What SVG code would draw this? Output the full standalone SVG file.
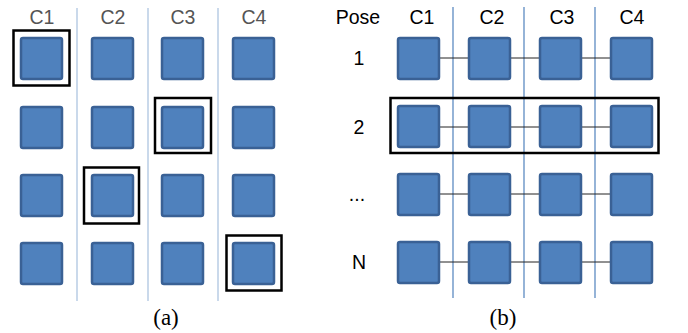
<svg xmlns="http://www.w3.org/2000/svg" width="688" height="333" viewBox="0 0 688 333">
<style>
.sq{fill:#4f81bd;stroke:#3a6195;stroke-width:2.5}
.sel{fill:none;stroke:#000;stroke-width:2.5}
.lgrid{stroke:#b9cde5;stroke-width:1.5}
.rgrid{stroke:#4f81bd;stroke-width:1.2}
.con{stroke:#222;stroke-width:1}
.lab{font-family:"Liberation Sans",Arial,sans-serif;font-size:19.5px;text-anchor:middle}
.cap{font-family:"Liberation Serif","Times New Roman",serif;font-size:23px;text-anchor:middle;fill:#000}
</style>
<rect width="688" height="333" fill="#fff"/>
<g id="panel-a-grid">
<line class="lgrid" x1="77" y1="8" x2="77" y2="301"/>
<line class="lgrid" x1="148" y1="8" x2="148" y2="301"/>
<line class="lgrid" x1="218" y1="8" x2="218" y2="301"/>
</g>
<g id="panel-a-labels" class="lab" fill="#555">
<text x="42" y="24">C1</text>
<text x="113" y="24">C2</text>
<text x="183" y="24">C3</text>
<text x="254" y="24">C4</text>
</g>
<g id="panel-a-nodes">
<g id="a-r1"><rect class="sq" x="21" y="38" width="41" height="41" rx="2"/><rect class="sq" x="92" y="38" width="41" height="41" rx="2"/><rect class="sq" x="162" y="38" width="41" height="41" rx="2"/><rect class="sq" x="233" y="38" width="41" height="41" rx="2"/></g>
<g id="a-r2"><rect class="sq" x="21" y="107" width="41" height="41" rx="2"/><rect class="sq" x="92" y="107" width="41" height="41" rx="2"/><rect class="sq" x="162" y="107" width="41" height="41" rx="2"/><rect class="sq" x="233" y="107" width="41" height="41" rx="2"/></g>
<g id="a-r3"><rect class="sq" x="21" y="175" width="41" height="41" rx="2"/><rect class="sq" x="92" y="175" width="41" height="41" rx="2"/><rect class="sq" x="162" y="175" width="41" height="41" rx="2"/><rect class="sq" x="233" y="175" width="41" height="41" rx="2"/></g>
<g id="a-r4"><rect class="sq" x="21" y="243" width="41" height="41" rx="2"/><rect class="sq" x="92" y="243" width="41" height="41" rx="2"/><rect class="sq" x="162" y="243" width="41" height="41" rx="2"/><rect class="sq" x="233" y="243" width="41" height="41" rx="2"/></g>
</g>
<g id="panel-a-selections">
<rect class="sel" x="13.5" y="30.5" width="56" height="55"/>
<rect class="sel" x="155" y="98" width="56" height="55"/>
<rect class="sel" x="84" y="167.5" width="55" height="56"/>
<rect class="sel" x="226.5" y="235.5" width="55" height="55"/>
</g>
<text class="cap" x="166" y="325">(a)</text>

<g id="panel-b-grid">
<line class="rgrid" x1="453" y1="7" x2="453" y2="298"/>
<line class="rgrid" x1="524" y1="7" x2="524" y2="298"/>
<line class="rgrid" x1="595" y1="7" x2="595" y2="298"/>
</g>
<g id="connectors">
<line class="con" x1="439" y1="58" x2="468" y2="58"/><line class="con" x1="510" y1="58" x2="539" y2="58"/><line class="con" x1="581" y1="58" x2="610" y2="58"/>
<line class="con" x1="439" y1="127" x2="468" y2="127"/><line class="con" x1="510" y1="127" x2="539" y2="127"/><line class="con" x1="581" y1="127" x2="610" y2="127"/>
<line class="con" x1="439" y1="194" x2="468" y2="194"/><line class="con" x1="510" y1="194" x2="539" y2="194"/><line class="con" x1="581" y1="194" x2="610" y2="194"/>
<line class="con" x1="439" y1="262" x2="468" y2="262"/><line class="con" x1="510" y1="262" x2="539" y2="262"/><line class="con" x1="581" y1="262" x2="610" y2="262"/>
</g>
<g id="panel-b-labels" class="lab" fill="#000">
<text x="358" y="24">Pose</text>
<text x="422" y="24">C1</text>
<text x="492" y="24">C2</text>
<text x="562" y="24">C3</text>
<text x="632" y="24">C4</text>
<text x="359" y="65">1</text>
<text x="359" y="134">2</text>
<text x="357" y="201">...</text>
<text x="359" y="269">N</text>
</g>
<g id="panel-b-nodes">
<g id="b-pose1"><rect class="sq" x="398" y="38" width="41" height="41" rx="2"/><rect class="sq" x="469" y="38" width="41" height="41" rx="2"/><rect class="sq" x="540" y="38" width="41" height="41" rx="2"/><rect class="sq" x="611" y="38" width="41" height="41" rx="2"/></g>
<g id="b-pose2"><rect class="sq" x="398" y="106" width="41" height="41" rx="2"/><rect class="sq" x="469" y="106" width="41" height="41" rx="2"/><rect class="sq" x="540" y="106" width="41" height="41" rx="2"/><rect class="sq" x="611" y="106" width="41" height="41" rx="2"/></g>
<g id="b-posedots"><rect class="sq" x="398" y="174" width="41" height="41" rx="2"/><rect class="sq" x="469" y="174" width="41" height="41" rx="2"/><rect class="sq" x="540" y="174" width="41" height="41" rx="2"/><rect class="sq" x="611" y="174" width="41" height="41" rx="2"/></g>
<g id="b-poseN"><rect class="sq" x="398" y="242" width="41" height="41" rx="2"/><rect class="sq" x="469" y="242" width="41" height="41" rx="2"/><rect class="sq" x="540" y="242" width="41" height="41" rx="2"/><rect class="sq" x="611" y="242" width="41" height="41" rx="2"/></g>
</g>
<g id="panel-b-selection">
<rect class="sel" x="390.5" y="98" width="268" height="55" stroke-width="3"/>
</g>
<text class="cap" x="503" y="325">(b)</text>
</svg>
